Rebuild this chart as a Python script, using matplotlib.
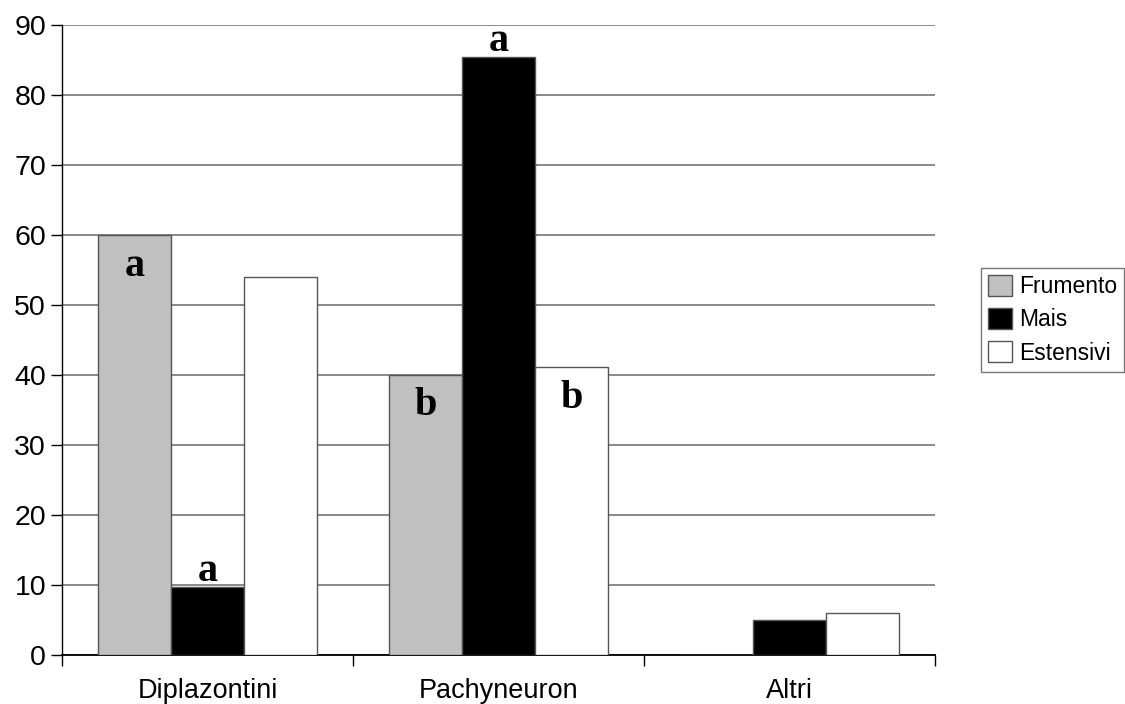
import numpy as np
import matplotlib.pyplot as plt
from matplotlib.patches import Patch

plt.rcParams['font.family'] = ['Liberation Sans', 'DejaVu Sans']

# percentages per taxon group and crop type
categories = ['Diplazontini', 'Pachyneuron', 'Altri']
series = ['Frumento', 'Mais', 'Estensivi']
frumento = [60.0, 40.0, 0.0]
mais = [9.7, 85.5, 4.9]
estensivi = [54.0, 41.1, 5.9]

# significance letters: (category index, series index, letter, inside bar?)
letters = [(0, 0, 'a', True), (0, 1, 'a', False),
           (1, 0, 'b', True), (1, 1, 'a', False), (1, 2, 'b', True)]

Grey = '#c0c0c0'
colors = [Grey, 'black', 'white']
values = [frumento, mais, estensivi]

fig = plt.figure(figsize=(11.25, 7.04), dpi=100)
ax = fig.add_axes([0.0551, 0.0703, 0.7760, 0.8935])

x = np.arange(len(categories))
w = 0.25
for i, (vals, col) in enumerate(zip(values, colors)):
    ax.bar(x + (i - 1) * w, vals, width=w, color=col, edgecolor='#555555',
           linewidth=1.0, zorder=3)

for ci, si, txt, inside in letters:
    v = values[si][ci]
    y = v - 5.8 if inside else v + 0.8
    ax.text(x[ci] + (si - 1) * w, y, txt, ha='center', va='baseline',
            family='Liberation Serif', fontweight='bold', fontsize=29, zorder=4)

ax.set_xlim(-0.5, 2.5)
ax.set_ylim(0, 90)
ax.set_yticks(np.arange(0, 91, 10))
ax.yaxis.grid(True, color='#808080', linewidth=1.3, zorder=0)
ax.set_axisbelow(True)

# category separators as major ticks, names on minor ticks
ax.set_xticks([-0.5, 0.5, 1.5, 2.5])
ax.set_xticklabels([])
ax.set_xticks(x, minor=True)
ax.set_xticklabels(categories, minor=True)
ax.tick_params(axis='x', which='major', direction='out', length=8, width=1)
ax.tick_params(axis='x', which='minor', length=0, pad=17, labelsize=19.5)
ax.tick_params(axis='y', direction='out', length=8, width=1, labelsize=20.5, pad=3.5)

for s in ['top', 'right']:
    ax.spines[s].set_visible(False)
ax.spines['left'].set_linewidth(1.0)
ax.spines['bottom'].set_linewidth(1.3)

handles = [Patch(facecolor=c, edgecolor='#555555', linewidth=1.0) for c in colors]
leg = fig.legend(handles, series, loc='center left', bbox_to_anchor=(0.872, 0.546),
                 fontsize=16.5, frameon=True, fancybox=False, edgecolor='#555555',
                 handlelength=1.05, handleheight=1.05, handletextpad=0.3,
                 labelspacing=0.43, borderpad=0.3, borderaxespad=0)
leg.get_frame().set_linewidth(1.0)

fig.savefig('out.png', dpi=100)
